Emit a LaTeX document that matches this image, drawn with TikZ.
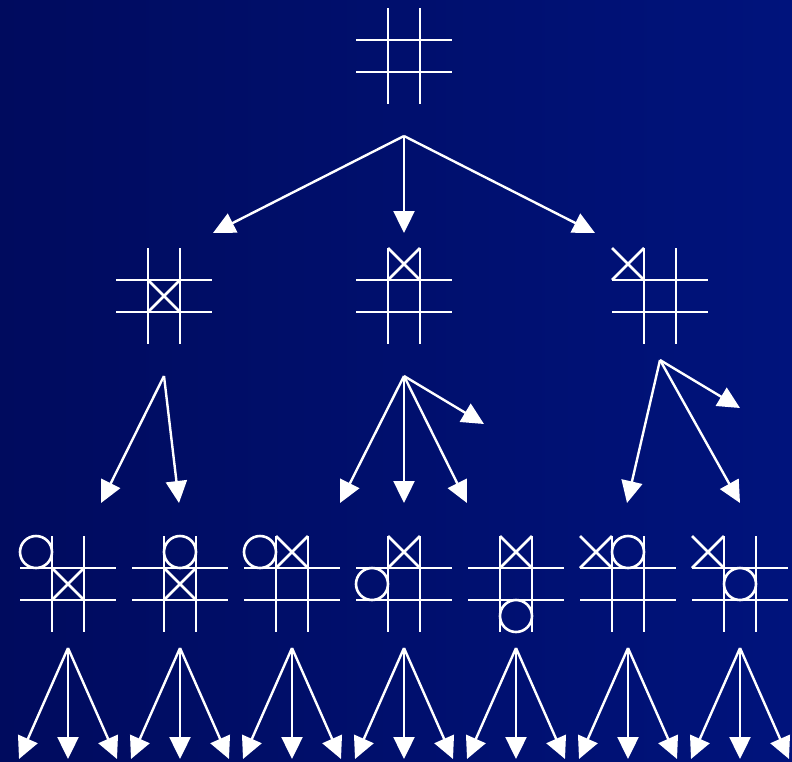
\documentclass[tikz,border=0pt]{standalone}
\usepackage{tikz}
\usepackage{xcolor}
\usetikzlibrary{arrows.meta}
\definecolor{gameNavyLeft}{HTML}{000B5E}
\definecolor{gameNavyRight}{HTML}{00137C}
\tikzset{
  gridline/.style={white, line width=2.6pt},
  move/.style={white, line width=2.4pt, -{Triangle[length=22pt,width=21pt]}},
  pics/board/.style={code={
    \draw[gridline] (-16,-48) -- (-16,48);
    \draw[gridline] (16,-48) -- (16,48);
    \draw[gridline] (-48,-16) -- (48,-16);
    \draw[gridline] (-48,16) -- (48,16);
  }},
  pics/cross/.style={code={
    \draw[gridline] (-16,-16) -- (16,16) (-16,16) -- (16,-16);
  }},
  pics/nought/.style={code={
    \draw[gridline] (0,0) circle (16);
  }},
}
\begin{document}
\begin{tikzpicture}[x=1pt,y=-1pt]
    \shade[left color=gameNavyLeft, right color=gameNavyRight] (0,0) rectangle (792,761);
    \useasboundingbox (0,0) rectangle (792,761);
    % empty board
    \pic (root) at (404,56) {board};
    % first move
    \pic (mA) at (164,296) {board};
    \pic at (164,296) {cross};
    \pic (mB) at (404,296) {board};
    \pic at (404,264) {cross};
    \pic (mC) at (660,296) {board};
    \pic at (628,264) {cross};
    % second move
    \pic (rA) at (68,584) {board};
    \pic at (68,584) {cross};
    \pic at (36,552) {nought};
    \pic (rB) at (180,584) {board};
    \pic at (180,584) {cross};
    \pic at (180,552) {nought};
    \pic (rC) at (292,584) {board};
    \pic at (292,552) {cross};
    \pic at (260,552) {nought};
    \pic (rD) at (404,584) {board};
    \pic at (404,552) {cross};
    \pic at (372,584) {nought};
    \pic (rE) at (516,584) {board};
    \pic at (516,552) {cross};
    \pic at (516,616) {nought};
    \pic (rF) at (628,584) {board};
    \pic at (596,552) {cross};
    \pic at (628,552) {nought};
    \pic (rG) at (740,584) {board};
    \pic at (708,552) {cross};
    \pic at (740,584) {nought};
    % branch points and arrow ends
    \coordinate (root out) at (404,136);
    \coordinate (mA in) at (213,233);
    \coordinate (mB in) at (404,233);
    \coordinate (mC in) at (595,233);
    \coordinate (mA out) at (164,376);
    \coordinate (mB out) at (404,376);
    \coordinate (mC out) at (660,360);
    \coordinate (rA in) at (101,503);
    \coordinate (rB in) at (179,503);
    \coordinate (rC in) at (340,503);
    \coordinate (rD in) at (404,503);
    \coordinate (rE in) at (467,503);
    \coordinate (mB more) at (484,424);
    \coordinate (rF in) at (627,503);
    \coordinate (rG in) at (740,503);
    \coordinate (mC more) at (740,408);
    \draw[move] (root out) -- (mA in);
    \draw[move] (root out) -- (mB in);
    \draw[move] (root out) -- (mC in);
    \draw[move] (mA out) -- (rA in);
    \draw[move] (mA out) -- (rB in);
    \draw[move] (mB out) -- (rC in);
    \draw[move] (mB out) -- (rD in);
    \draw[move] (mB out) -- (rE in);
    \draw[move] (mB out) -- (mB more);
    \draw[move] (mC out) -- (rF in);
    \draw[move] (mC out) -- (rG in);
    \draw[move] (mC out) -- (mC more);
    % third move
    \foreach \n/\cx in {rA/68,rB/180,rC/292,rD/404,rE/516,rF/628,rG/740} {
      \coordinate (\n out) at (\cx,648);
      \coordinate (\n left) at (\cx-49,759);
      \coordinate (\n mid) at (\cx,759);
      \coordinate (\n right) at (\cx+49,759);
      \draw[move] (\n out) -- (\n left);
      \draw[move] (\n out) -- (\n mid);
      \draw[move] (\n out) -- (\n right);
    }
  \end{tikzpicture}
\end{document}
